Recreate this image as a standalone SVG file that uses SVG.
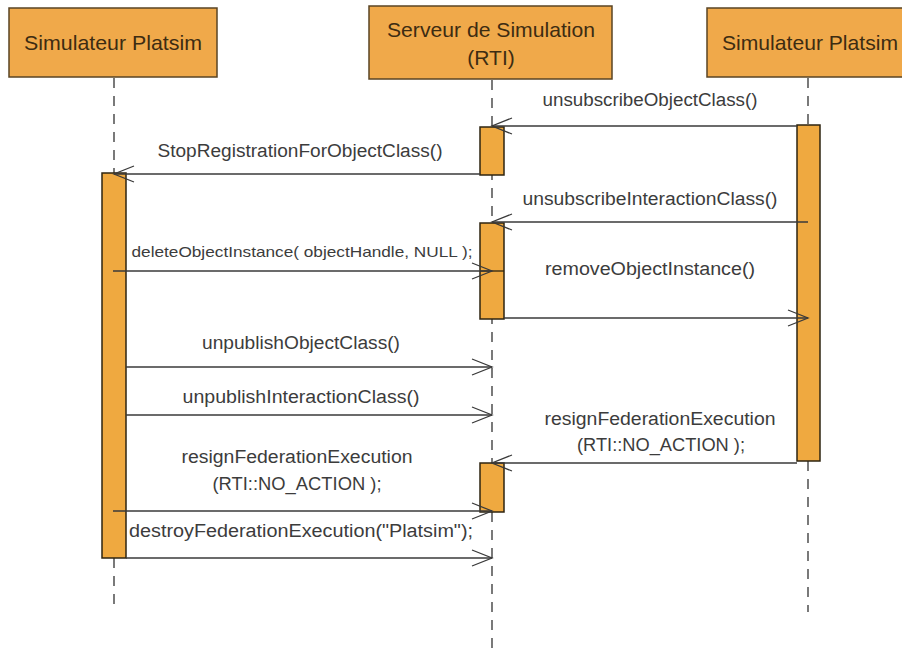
<svg xmlns="http://www.w3.org/2000/svg" width="902" height="655" viewBox="0 0 902 655">
<defs>
<style>
.hdr{fill:#F0A94A;stroke:#5a4424;stroke-width:1.5}
.htx{font-family:"Liberation Sans",Arial,sans-serif;font-size:21px;fill:#3d2c12;text-anchor:middle}
.life{stroke:#333;stroke-width:1.3;stroke-dasharray:10,8;fill:none}
.act{fill:#EFA940;stroke:#2e2410;stroke-width:1.5}
.msg{stroke:#3a3a3a;stroke-width:1.3;fill:none;marker-end:url(#open)}
.lbl{font-family:"Liberation Sans",Arial,sans-serif;font-size:18px;fill:#3c3c3c;text-anchor:middle}
.sm{font-size:15px}
</style>
<marker id="open" markerWidth="30" markerHeight="24" refX="0" refY="0" viewBox="-22 -12 24 24" markerUnits="userSpaceOnUse" orient="auto" overflow="visible">
<path d="M-20,-8 L0,0 L-20,8" fill="none" stroke="#3a3a3a" stroke-width="1.3"/>
</marker>
</defs>
<rect width="902" height="655" fill="#fff"/>

<g id="lifelines">
<line class="life" x1="114" y1="78" x2="114" y2="173"/>
<line class="life" x1="114" y1="558" x2="114" y2="612"/>
<line class="life" x1="492" y1="80" x2="492" y2="655"/>
<line class="life" x1="808" y1="78" x2="808" y2="125"/>
<line class="life" x1="808" y1="461" x2="808" y2="612"/>
</g>

<g id="sim-left">
<rect class="hdr" x="9" y="8" width="208" height="69"/>
<text class="htx" x="113" y="50" textLength="178" lengthAdjust="spacingAndGlyphs">Simulateur Platsim</text>
<rect class="act" x="102" y="173" width="24" height="385"/>
</g>

<g id="rti">
<rect class="hdr" x="369" y="6" width="243" height="73"/>
<text class="htx" x="491" y="37" textLength="208" lengthAdjust="spacingAndGlyphs">Serveur de Simulation</text>
<text class="htx" x="491" y="65">(RTI)</text>
<rect class="act" x="480" y="127" width="24" height="48"/>
<rect class="act" x="480" y="223" width="24" height="96"/>
<line x1="480" y1="271" x2="504" y2="271" stroke="#2e2410" stroke-width="1.3"/>
<rect class="act" x="480" y="463" width="24" height="49"/>
</g>

<g id="sim-right">
<rect class="hdr" x="707" y="8" width="210" height="69"/>
<text class="htx" x="810" y="50" textLength="176" lengthAdjust="spacingAndGlyphs">Simulateur Platsim</text>
<rect class="act" x="797" y="125" width="23" height="336"/>
</g>

<g id="connectors">
<line class="msg" x1="797" y1="126" x2="492" y2="126"/>
<line class="msg" x1="480" y1="174" x2="114" y2="174"/>
<line class="msg" x1="808" y1="222" x2="492" y2="222"/>
<line class="msg" x1="113" y1="271" x2="492" y2="271"/>
<line class="msg" x1="504" y1="318" x2="808" y2="318"/>
<line class="msg" x1="126" y1="367" x2="492" y2="367"/>
<line class="msg" x1="126" y1="415" x2="492" y2="415"/>
<line class="msg" x1="797" y1="463" x2="492" y2="463"/>
<line class="msg" x1="113" y1="511" x2="492" y2="511"/>
<line class="msg" x1="126" y1="558" x2="492" y2="558"/>
</g>

<g id="labels">
<text class="lbl" x="650" y="106" textLength="215" lengthAdjust="spacingAndGlyphs">unsubscribeObjectClass()</text>
<text class="lbl" x="300" y="157" textLength="285" lengthAdjust="spacingAndGlyphs">StopRegistrationForObjectClass()</text>
<text class="lbl" x="650" y="205" textLength="255" lengthAdjust="spacingAndGlyphs">unsubscribeInteractionClass()</text>
<text class="lbl sm" x="302" y="257" textLength="341" lengthAdjust="spacingAndGlyphs">deleteObjectInstance( objectHandle, NULL );</text>
<text class="lbl" x="650" y="275" textLength="210" lengthAdjust="spacingAndGlyphs">removeObjectInstance()</text>
<text class="lbl" x="301" y="349" textLength="198" lengthAdjust="spacingAndGlyphs">unpublishObjectClass()</text>
<text class="lbl" x="301" y="403" textLength="237" lengthAdjust="spacingAndGlyphs">unpublishInteractionClass()</text>
<text class="lbl" x="660" y="425" textLength="231" lengthAdjust="spacingAndGlyphs">resignFederationExecution</text>
<text class="lbl" x="661" y="451" textLength="168" lengthAdjust="spacingAndGlyphs">(RTI::NO_ACTION );</text>
<text class="lbl" x="297" y="463" textLength="231" lengthAdjust="spacingAndGlyphs">resignFederationExecution</text>
<text class="lbl" x="297" y="490" textLength="169" lengthAdjust="spacingAndGlyphs">(RTI::NO_ACTION );</text>
<text class="lbl" x="301" y="537" textLength="344" lengthAdjust="spacingAndGlyphs">destroyFederationExecution("Platsim");</text>
</g>
</svg>
